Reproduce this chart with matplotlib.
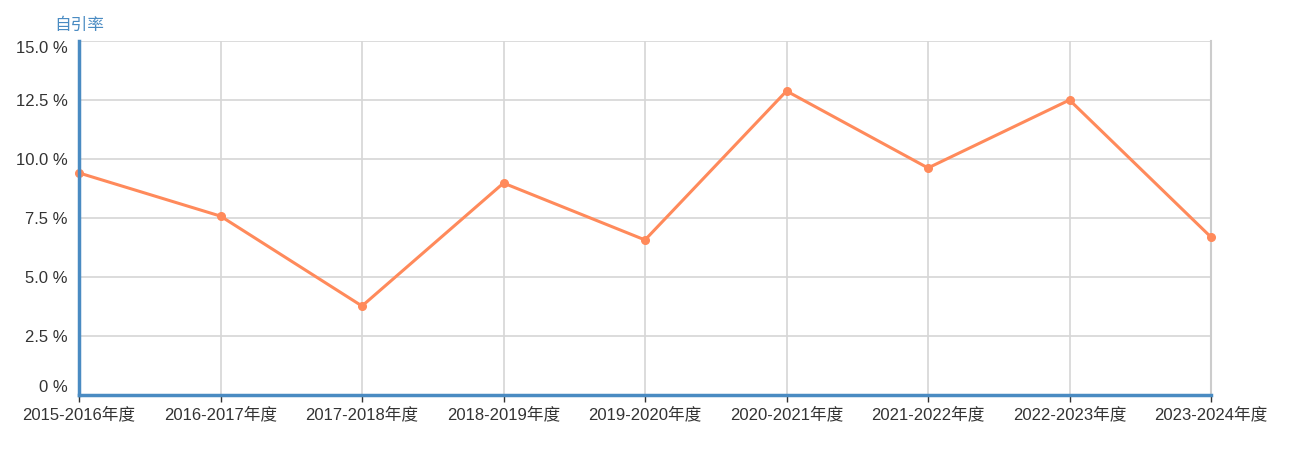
import matplotlib
matplotlib.use("Agg")
import matplotlib.pyplot as plt
from matplotlib.ticker import FuncFormatter

plt.rcParams['font.family'] = ['Liberation Sans', 'Noto Sans CJK SC', 'DejaVu Sans']

# Data
years = ['2015-2016年度', '2016-2017年度', '2017-2018年度', '2018-2019年度',
         '2019-2020年度', '2020-2021年度', '2021-2022年度', '2022-2023年度',
         '2023-2024年度']
self_cite_rate = [9.41, 7.58, 3.77, 8.98, 6.57, 12.88, 9.62, 12.5, 6.69]
y_ticks = [0, 2.5, 5.0, 7.5, 10.0, 12.5, 15.0]

line_color = '#ff8a5b'
axis_color = '#4a8bc2'
text_color = '#333333'
fs = 12

fig = plt.figure(figsize=(12.9, 4.54), dpi=100)
ax = fig.add_axes([79 / 1290, (454 - 395) / 454, (1211 - 79) / 1290, (395 - 41) / 454])

x = list(range(len(years)))
ax.plot(x, self_cite_rate, color=line_color, linewidth=2.2, marker='o',
        markersize=5.5, zorder=3, clip_on=False)

ax.set_xlim(0, len(years) - 1)
ax.set_ylim(0, 15)
ax.set_xticks(x)
ax.set_xticklabels(years, fontsize=fs, color=text_color)
ax.set_yticks(y_ticks)
ax.yaxis.set_major_formatter(FuncFormatter(lambda v, p: '0 %' if v == 0 else f'{v:.1f} %'))
ax.tick_params(axis='y', length=0, pad=8, labelsize=fs, labelcolor=text_color)
ax.tick_params(axis='x', length=5, width=1, color=text_color, pad=3)

# nudge the end labels inside the plot like the original
ylabels = ax.get_yticklabels()
ylabels[0].set_verticalalignment('bottom')
ylabels[-1].set_verticalalignment('top')

ax.grid(True, color='#d6d6d6', linewidth=1.2, zorder=0)
ax.set_axisbelow(True)

for side in ['top']:
    ax.spines[side].set_visible(False)
ax.spines['right'].set_color('#cccccc')
ax.spines['right'].set_linewidth(1.5)
ax.spines['left'].set_color(axis_color)
ax.spines['left'].set_linewidth(2.5)
ax.spines['bottom'].set_color(axis_color)
ax.spines['bottom'].set_linewidth(2.5)
ax.spines['left'].set_zorder(4)
ax.spines['bottom'].set_zorder(4)

fig.text(54 / 1290, 1 - 25 / 454, '自引率', color=axis_color, fontsize=fs,
         ha='left', va='center')

fig.savefig('out.png', dpi=100)
